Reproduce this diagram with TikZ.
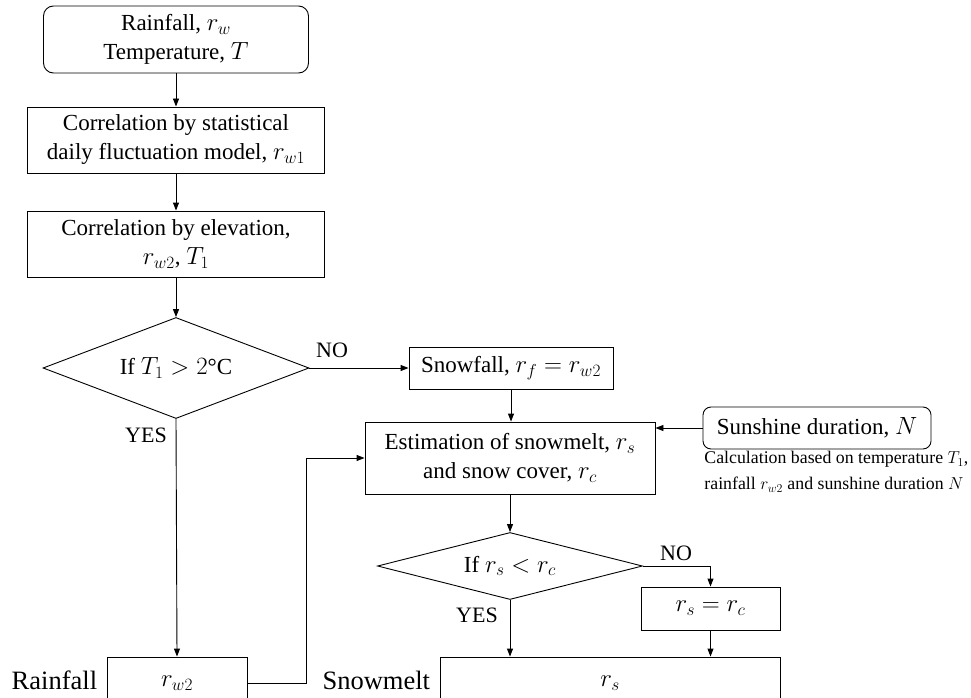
\documentclass[tikz,border=0pt]{standalone}
\usepackage{fontspec}
\setmainfont{Liberation Serif}
\usetikzlibrary{arrows.meta, positioning, shapes.geometric}

\begin{document}
\begin{tikzpicture}[
  x=1pt, y=-1pt,
  font=\fontsize{23}{29}\selectfont,
  line width=0.9pt,
  >={Triangle[length=8pt, width=6pt]},
  box/.style={draw, inner sep=0pt, align=center},
  rbox/.style={box, rounded corners=10pt},
  cond/.style={draw, diamond, inner sep=0pt, shape aspect=2.6},
  lbl/.style={inner sep=0pt, font=\fontsize{22}{26}\selectfont},
  side/.style={inner sep=0pt, font=\fontsize{26.5}{30}\selectfont}
]
\clip (0,0) rectangle (971,698);
% main column: inputs, corrections, temperature test
\node[rbox, minimum width=265pt, minimum height=67pt] (inp) at (176,39.5)
  {Rainfall, $r_w$\\Temperature, $T$};
\node[box, minimum width=297pt, minimum height=66pt] (corr1) at (176,140)
  {Correlation by statistical\\daily fluctuation model, $r_{w1}$};
\node[box, minimum width=297pt, minimum height=66pt] (corr2) at (176,244)
  {Correlation by elevation,\\$r_{w2}$, $T_1$};
\node[cond, minimum width=266pt, minimum height=101pt] (ift) at (176,368)
  {If $T_1 > 2$°C};
% snow branch
\node[box, minimum width=204pt, minimum height=42pt] (snowf) at (511,368)
  {Snowfall, $r_f = r_{w2}$};
\node[box, minimum width=290pt, minimum height=72pt] (est) at (510,458)
  {Estimation of snowmelt, $r_s$\\and snow cover, $r_c$};
\node[rbox, rounded corners=8pt, minimum width=228pt, minimum height=42pt] (sun) at (817,428)
  {Sunshine duration, $N$};
\node[inner sep=0pt, anchor=north west, align=left, font=\fontsize{17.8}{26}\selectfont] (note) at (704,451)
  {Calculation based on temperature $T_1$,\\rainfall $r_{w2}$ and sunshine duration $N$};
\node[cond, minimum width=265pt, minimum height=67pt] (ifr) at (510,566)
  {If $r_s < r_c$};
\node[box, minimum width=139pt, minimum height=43pt] (eq) at (710.5,608.5)
  {$r_s = r_c$};
% outputs, running off the bottom edge
\node[box, minimum width=140pt, minimum height=52pt] (rain) at (177,683) {$r_{w2}$};
\node[box, minimum width=340pt, minimum height=52pt] (melt) at (610,683) {$r_s$};
\node[side, anchor=east] (rainlbl) at ([xshift=-9pt]rain.west |- 0,680) {Rainfall};
\node[side, anchor=east] (meltlbl) at ([xshift=-9pt]melt.west |- 0,680) {Snowmelt};
% branch labels
\node[lbl] (no1)  at (332,350) {NO};
\node[lbl] (yes1) at (146,435) {YES};
\node[lbl] (no2)  at (676,553) {NO};
\node[lbl] (yes2) at (477,615) {YES};
\coordinate (jog) at (306,458);

\draw[->] (inp) -- (corr1);
\draw[->] (corr1) -- (corr2);
\draw[->] (corr2) -- (ift);
\draw[->] (ift.east) -- (snowf.west);
\draw[->] (ift.south) -- (rain.north);
\draw[->] (snowf) -- (snowf |- est.north);
\draw[->] (sun.west) -- (est.east |- sun.west);
\draw[->] (rain.east) -| (jog) -- (est.west);
\draw[->] (est) -- (ifr);
\draw[->] (ifr.east) -| (eq.north);
\draw[->] (ifr.south) -- (ifr.south |- melt.north);
\draw[->] (eq.south) -- (eq.south |- melt.north);
\end{tikzpicture}
\end{document}
